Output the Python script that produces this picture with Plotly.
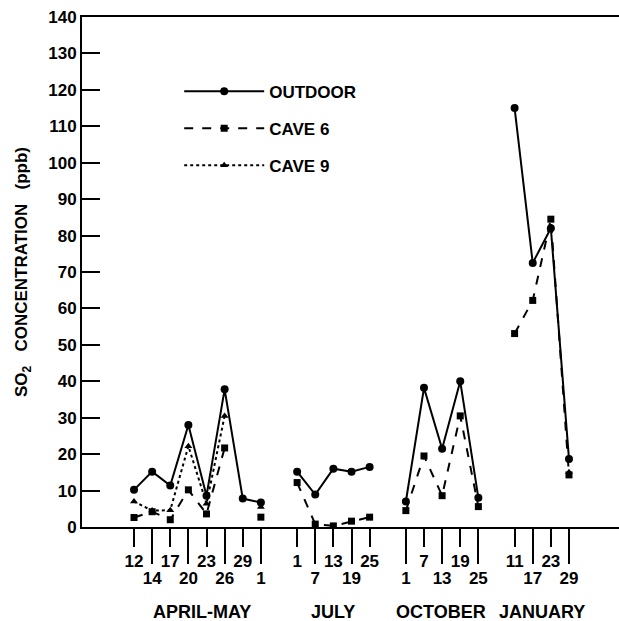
import plotly.graph_objects as go

# ---- data -------------------------------------------------------------
groups = ["APRIL-MAY", "JULY", "OCTOBER", "JANUARY"]
group_labels = [["12", "14", "17", "20", "23", "26", "29", "1"],
                ["1", "7", "13", "19", "25"],
                ["1", "7", "13", "19", "25"],
                ["11", "17", "23", "29"]]
# 1 = label in the upper row, 0 = lower row
group_rows = [[1, 0, 1, 0, 1, 0, 1, 0],
              [1, 0, 1, 0, 1],
              [0, 1, 0, 1, 0],
              [1, 0, 1, 0]]

outdoor = [[10.2, 15.2, 11.4, 28.0, 8.6, 37.8, 7.8, 6.7],
           [15.2, 8.9, 16.0, 15.2, 16.5],
           [7.0, 38.2, 21.5, 40.0, 8.0],
           [115.0, 72.5, 82.0, 18.7]]
cave6 = [[2.6, 4.2, 2.0, 10.2, 3.6, 21.7, None, 2.7],
         [12.2, 0.8, 0.3, 1.6, 2.7],
         [4.5, 19.5, 8.6, 30.5, 5.6],
         [53.1, 62.2, 84.5, 14.3]]
cave9 = [[7.0, 4.5, 4.6, 22.2, 6.4, 30.5, None, 5.5],
         [None, None, None, None, None],
         [None, None, None, None, None],
         [None, None, None, 15.0]]

# ---- positions (equal spacing, one empty slot between periods) ---------
positions = []
group_centres = []
p = 0
for labels in group_labels:
    start = p
    for _ in labels:
        positions.append(p)
        p += 1
    group_centres.append((start + p - 1) / 2)
    p += 1
# small offsets of the period captions relative to the group centres
caption_shift = [0.25, 0.0, -0.05, 0.0]


def build(series):
    xs, ys = [], []
    i = 0
    for g, vals in enumerate(series):
        for v in vals:
            xs.append(positions[i])
            ys.append(v)
            i += 1
        xs.append(None)
        ys.append(None)
    return xs, ys


flat_labels = [l for g in group_labels for l in g]
flat_rows = [r for g in group_rows for r in g]
upper_pos = [positions[i] for i in range(len(positions)) if flat_rows[i] == 1]
upper_txt = [flat_labels[i] for i in range(len(positions)) if flat_rows[i] == 1]
lower_pos = [positions[i] for i in range(len(positions)) if flat_rows[i] == 0]
lower_txt = [flat_labels[i] for i in range(len(positions)) if flat_rows[i] == 0]

FONT = "Liberation Sans, Arial, Helvetica, sans-serif"

fig = go.Figure()
x, y = build(outdoor)
fig.add_trace(go.Scatter(x=x, y=y, mode="lines+markers", name="OUTDOOR",
                         legendgroup="a",
                         line=dict(color="black", width=2, dash="solid"),
                         marker=dict(symbol="circle", size=8, color="black")))
x, y = build(cave6)
fig.add_trace(go.Scatter(x=x, y=y, mode="lines+markers", name="CAVE 6",
                         legendgroup="b",
                         line=dict(color="black", width=2, dash="dash"),
                         marker=dict(symbol="square", size=7, color="black")))
x, y = build(cave9)
fig.add_trace(go.Scatter(x=x, y=y, mode="lines+markers", name="CAVE 9",
                         legendgroup="c",
                         line=dict(color="black", width=2, dash="dot"),
                         marker=dict(symbol="triangle-up", size=7, color="black")))
# invisible trace to activate the second (lower-row) x axis
fig.add_trace(go.Scatter(x=[positions[0]], y=[None], xaxis="x2",
                         showlegend=False, hoverinfo="skip"))

tickfont = dict(family=FONT, size=17, color="black", weight="bold")
xrange = [-2.87, 26.76]

fig.update_layout(
    width=619, height=621,
    margin=dict(l=82, r=0, t=17, b=94, autoexpand=False),
    paper_bgcolor="white", plot_bgcolor="white",
    font=dict(family=FONT, color="black"),
    showlegend=True,
    legend=dict(x=0.181, y=0.889, xanchor="left", yanchor="top",
                bgcolor="rgba(0,0,0,0)", itemwidth=80,
                tracegroupgap=12,
                font=dict(family=FONT, size=17, color="black", weight="bold")),
    xaxis=dict(range=xrange, showgrid=False, zeroline=False, automargin=False,
               showline=True, linecolor="black", linewidth=2, mirror=True,
               tickmode="array", tickvals=upper_pos, ticktext=upper_txt,
               ticks="outside", ticklen=18, tickwidth=2, tickcolor="black",
               tickfont=tickfont),
    xaxis2=dict(range=xrange, overlaying="x", side="bottom", matches="x",
                showgrid=False, zeroline=False, showline=False, automargin=False,
                tickmode="array", tickvals=lower_pos, ticktext=lower_txt,
                ticks="outside", ticklen=36, tickwidth=2, tickcolor="black",
                tickfont=tickfont),
    yaxis=dict(range=[0, 140], dtick=10, tick0=0, showgrid=False,
               zeroline=False, showline=True, linecolor="black", linewidth=2,
               automargin=False,
               ticks="inside", ticklen=18, tickwidth=2, tickcolor="black",
               tickfont=tickfont,
               title=dict(text="SO<sub>2</sub>\u00a0\u00a0\u00a0CONCENTRATION\u00a0\u00a0\u00a0(ppb)",
                          font=dict(family=FONT, size=17, color="black",
                                    weight="bold"),
                          standoff=16)),
)

for name, cx, dx in zip(groups, group_centres, caption_shift):
    fig.add_annotation(x=cx + dx, y=-0.167, xref="x", yref="paper", text=name,
                       showarrow=False, yanchor="middle",
                       font=dict(family=FONT, size=18, color="black",
                                 weight="bold"))

fig.write_html("out.html",
               config={"displayModeBar": False},
               post_script="document.body.style.margin='0';"
                           "document.body.style.overflow='hidden';")
